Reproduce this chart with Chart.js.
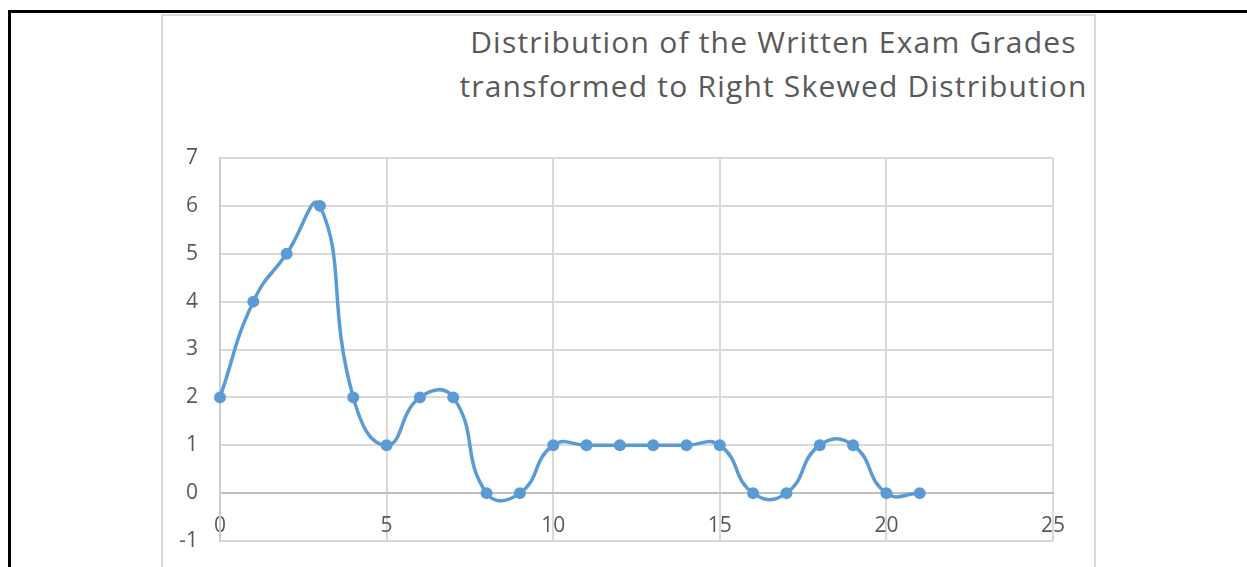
<!DOCTYPE html>
<html>
<head>
<meta charset="utf-8">
<script src="https://cdn.jsdelivr.net/npm/chart.js@4"></script>
<style>
  html, body { margin: 0; padding: 0; background: #fff; width: 1247px; height: 567px; overflow: hidden; }
  #frame { position: absolute; left: 8px; top: 10px; width: 1245px; height: 560px; border-top: 3px solid #000; border-left: 3px solid #000; }
  #box { position: absolute; left: 161px; top: 14px; width: 931px; height: 560px; border: 2px solid #d9d9d9; }
  #wrap { position: absolute; left: 163px; top: 16px; width: 931px; height: 551px; }
  .title { position: absolute; left: 0; width: 1547px; text-align: center; font-family: "Open Sans", sans-serif; font-size: 30px; letter-spacing: 1.2px; color: #595959; white-space: nowrap; line-height: 1; }
</style>
</head>
<body>
<div id="frame"></div>
<div id="box"></div>
<div class="title" id="t1" style="top:27px;">Distribution of the Written Exam Grades</div>
<div class="title" id="t2" style="top:71px;">transformed to Right Skewed Distribution</div>
<div id="wrap"><canvas id="c" width="931" height="551"></canvas></div>
<script>
const titleLines = ["Distribution of the Written Exam Grades", "transformed to Right Skewed Distribution"];
const grades = [0, 1, 2, 3, 4, 5, 6, 7, 8, 9, 10, 11, 12, 13, 14, 15, 16, 17, 18, 19, 20, 21];
const counts = [2, 4, 5, 6, 2, 1, 2, 2, 0, 0, 1, 1, 1, 1, 1, 1, 0, 0, 1, 1, 0, 0];
const xTicks = [0, 5, 10, 15, 20, 25];
const yTicks = [-1, 0, 1, 2, 3, 4, 5, 6, 7];

document.getElementById('t1').textContent = titleLines[0];
document.getElementById('t2').textContent = titleLines[1];

const points = grades.map((g, i) => ({ x: g, y: counts[i] }));
const blue = '#5B9BD5';

// Pin the plot rectangle (canvas px) to match the reference frame.
const PLOT = { left: 57, top: 142, right: 890, bottom: 525 };
const pinArea = {
  id: 'pinArea',
  afterLayout(chart) {
    const a = chart.chartArea;
    a.left = PLOT.left; a.top = PLOT.top; a.right = PLOT.right; a.bottom = PLOT.bottom;
    a.width = a.right - a.left; a.height = a.bottom - a.top;
    const xs = chart.scales.x, ys = chart.scales.y;
    xs.left = a.left; xs.right = a.right; xs.width = a.width;
    ys.top = a.top; ys.bottom = a.bottom; ys.height = a.height;
    ys.left = 0; ys.right = a.left; ys.width = a.left;
    xs.configure(); ys.configure();
  }
};

new Chart(document.getElementById('c'), {
  type: 'line',
  data: {
    datasets: [{
      data: points,
      borderColor: blue,
      backgroundColor: blue,
      borderWidth: 3.5,
      pointRadius: 6,
      pointHoverRadius: 6,
      pointBackgroundColor: blue,
      pointBorderColor: blue,
      pointBorderWidth: 0,
      tension: 0.5,
      clip: false,
      fill: false
    }]
  },
  plugins: [pinArea],
  options: {
    responsive: false,
    animation: false,
    events: [],
    layout: { padding: { left: 0, top: 142, right: 41, bottom: 26 } },
    plugins: { legend: { display: false }, title: { display: false }, tooltip: { enabled: false } },
    scales: {
      x: {
        type: 'linear',
        position: { y: 0 },
        min: xTicks[0],
        max: xTicks[xTicks.length - 1],
        afterFit: (s) => { s.height = 0; },
        afterBuildTicks: (s) => { s.ticks = xTicks.map(v => ({ value: v })); },
        grid: { color: '#d9d9d9', lineWidth: 2, drawTicks: false },
        border: { display: true, color: '#bfbfbf', width: 2 },
        ticks: { color: '#595959', font: { family: 'Open Sans', size: 21 }, padding: 20, maxRotation: 0, autoSkip: false }
      },
      y: {
        type: 'linear',
        min: yTicks[0],
        max: yTicks[yTicks.length - 1],
        afterFit: (s) => { s.width = 57; },
        afterBuildTicks: (s) => { s.ticks = yTicks.map(v => ({ value: v })); },
        grid: { color: '#d9d9d9', lineWidth: 2, drawTicks: false },
        border: { display: true, color: '#cccccc', width: 2 },
        ticks: { color: '#595959', font: { family: 'Open Sans', size: 21 }, padding: 22 }
      }
    }
  }
});
</script>
</body>
</html>
